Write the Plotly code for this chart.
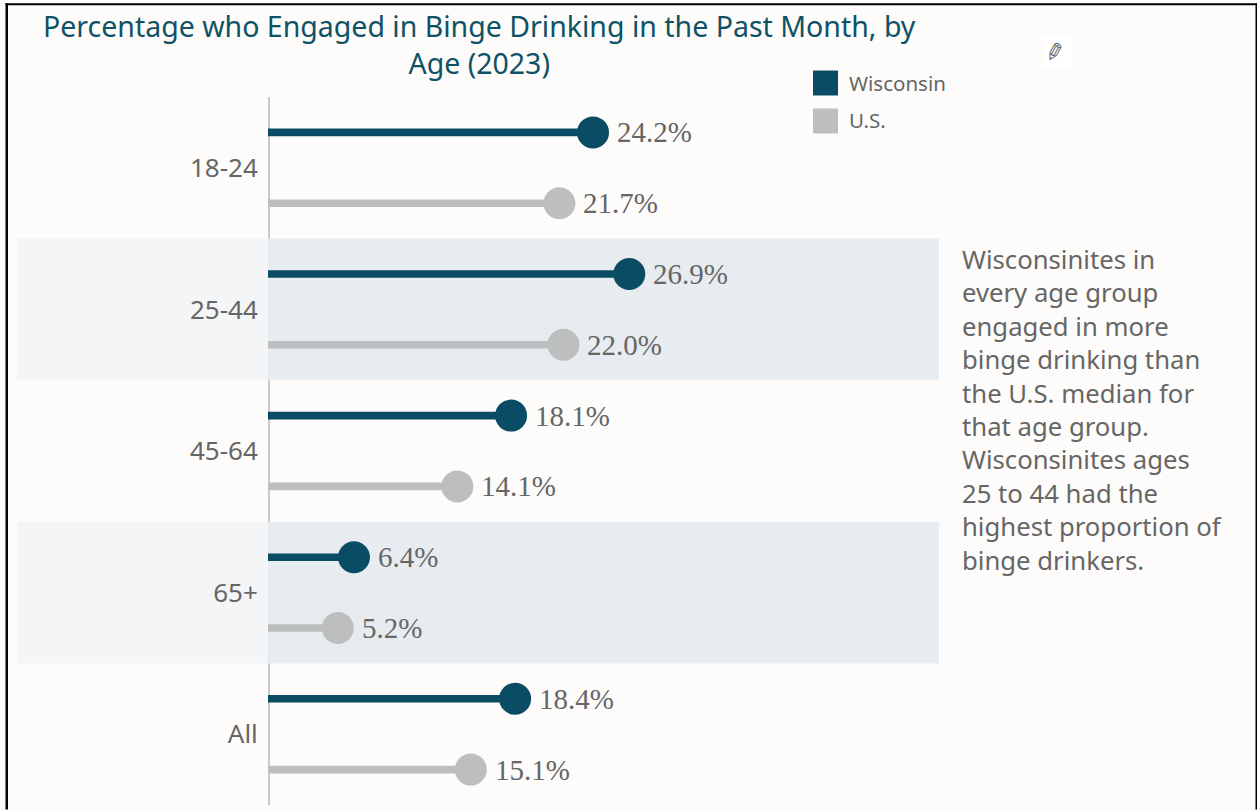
import plotly.graph_objects as go

categories = ["18-24", "25-44", "45-64", "65+", "All"]
wisconsin = [24.2, 26.9, 18.1, 6.4, 18.4]
us = [21.7, 22.0, 14.1, 5.2, 15.1]
band_rows = [1, 3]
series = [("Wisconsin", wisconsin, "#0A4C63", -0.25), ("U.S.", us, "#BDBFBE", 0.25)]
title_lines = "Percentage who Engaged in Binge Drinking in the Past Month, by<br>Age (2023)"
note = ("Wisconsinites in<br>every age group<br>engaged in more<br>binge drinking than<br>the U.S. median for<br>"
        "that age group.<br>Wisconsinites ages<br>25 to 44 had the<br>highest proportion of<br>binge drinkers.")

W, H = 1257, 810
L, R, T, B = 268, 939, 96.5, 805.5
XMAX = (R - L) / 13.43
SANS = "Noto Sans"
def px(x): return (x - L) / (R - L)
def py(y): return (B - y) / (B - T)

fig = go.Figure()
ann = []
for name, vals, color, off in series:
    ys = [i + off for i in range(len(categories))]
    fig.add_trace(go.Bar(x=vals, y=ys, orientation="h", width=0.054, marker=dict(color=color, line_width=0),
                         showlegend=False, name=name, hoverinfo="skip"))
    fig.add_trace(go.Scatter(x=vals, y=ys, mode="markers", name=name, showlegend=False,
                             marker=dict(size=32, color=color), cliponaxis=False))
    for v, y in zip(vals, ys):
        ann.append(dict(text=f"{v:.1f}%", x=v, y=y, xref="x", yref="y", xanchor="left", yanchor="middle",
                        xshift=22, yshift=0, showarrow=False,
                        font=dict(family="Liberation Serif", size=29, color="#666666")))

shapes = []
for r in band_rows:
    shapes.append(dict(type="rect", layer="below", xref="x", yref="y", x0=0, x1=XMAX, y0=r - .5, y1=r + .5,
                       fillcolor="#E7ECF0", line_width=0))
    shapes.append(dict(type="rect", layer="below", xref="paper", yref="y", x0=px(17), x1=0, y0=r - .5, y1=r + .5,
                       fillcolor="#F4F5F6", line_width=0))
# axis rule
shapes.append(dict(type="rect", layer="below", xref="paper", yref="paper", x0=px(268), x1=px(270), y0=0, y1=1,
                   fillcolor="#C9C9C9", line_width=0))
# frame
for x0, x1, y0, y1 in [(5.5, 8, 2.5, 810), (5.5, 1257, 2.5, 4.5), (1255.5, 1257, 2.5, 810)]:
    shapes.append(dict(type="rect", layer="above", xref="paper", yref="paper", x0=px(x0), x1=px(x1), y0=py(y0), y1=py(y1),
                       fillcolor="#000000", line_width=0))
# legend swatches
for (name, vals, color, off), y in zip(series, [70, 108]):
    shapes.append(dict(type="rect", xref="paper", yref="paper", x0=px(813), x1=px(838), y0=py(y), y1=py(y + 25),
                       fillcolor=color, line_width=0))
shapes.append(dict(type="rect", xref="paper", yref="paper", x0=px(1042), x1=px(1072), y0=py(36), y1=py(66),
                   fillcolor="#FFFFFF", line_width=0))

common = dict(xref="paper", yref="paper", showarrow=False, yanchor="middle")
ann += [
    dict(text=title_lines, x=px(479), y=py(43.5), xanchor="center", align="center",
         font=dict(family=SANS, size=28.5, color="#0F5266"), **common),
    dict(text=note, x=px(960), y=py(409.5), xanchor="left", align="left",
         font=dict(family=SANS, size=25.7, color="#666666"), **common),
    dict(text="✏", x=px(1054), y=py(51), xanchor="center", textangle=120,
         font=dict(family="DejaVu Sans", size=24, color="#666666"), **common),
]
for (name, vals, color, off), y in zip(series, [82, 120]):
    ann.append(dict(text=name, x=px(847), y=py(y), xanchor="left",
                    font=dict(family=SANS, size=20.5, color="#666666"), **common))

fig.update_layout(
    width=W, height=H, margin=dict(l=L, r=W - R, t=T, b=H - B), paper_bgcolor="#FDFCFA", plot_bgcolor="rgba(0,0,0,0)",
    barmode="overlay", showlegend=False, shapes=shapes, annotations=ann,
    xaxis=dict(range=[0, XMAX], visible=False, fixedrange=True),
    yaxis=dict(range=[4.5, -0.5], tickmode="array", tickvals=list(range(len(categories))), ticktext=categories,
               ticks="outside", ticklen=4, tickcolor="rgba(0,0,0,0)", showline=False,
               showgrid=False, zeroline=False, tickfont=dict(family=SANS, size=26, color="#666666"), fixedrange=True),
)
fig.write_html("out.html", config=dict(displayModeBar=False),
               post_script="document.body.style.margin='0';document.body.style.overflow='hidden';")
